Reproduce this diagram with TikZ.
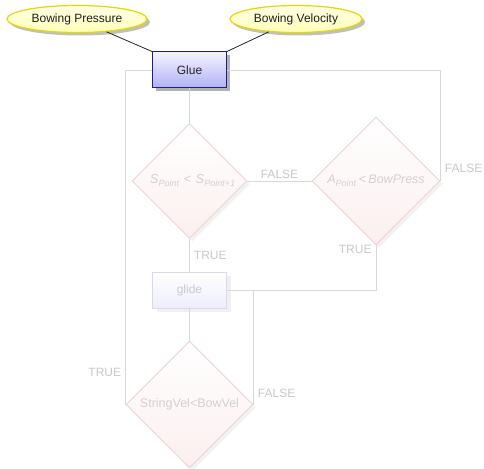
\documentclass[tikz,border=0pt]{standalone}
\usepackage{fontspec}
\setmainfont{Liberation Sans}
\usetikzlibrary{shapes.geometric,shadows}

\definecolor{ellstroke}{HTML}{E6D800}
\definecolor{elltop}{HTML}{FFFFE6}
\definecolor{ellbottom}{HTML}{FFFFB8}
\definecolor{gluestroke}{HTML}{1E1E8C}
\definecolor{gluetop}{HTML}{F4F4FF}
\definecolor{gluebottom}{HTML}{B0B0F4}
\definecolor{flowgray}{HTML}{D8D8D8}
\definecolor{labelgray}{HTML}{C8C8C8}
\definecolor{diastroke}{HTML}{EDD3D3}
\definecolor{diabottom}{HTML}{FCEFEF}
\definecolor{diatext}{HTML}{D8CFCF}
\definecolor{glidestroke}{HTML}{D8D8F0}
\definecolor{glidebottom}{HTML}{EEEEFC}
\definecolor{glidetext}{HTML}{C8C8D8}

% subscript in the diamond conditions
\newcommand{\condsub}[1]{\raisebox{-3pt}{\fontsize{9}{10}\selectfont #1}}

\tikzset{
  inputell/.style={ellipse, draw=ellstroke, line width=1.2pt,
    top color=elltop, bottom color=ellbottom, inner sep=0pt,
    text=black!88,
    drop shadow={shadow xshift=3pt, shadow yshift=-3pt, fill=black, opacity=0.25}},
  activebox/.style={rectangle, draw=gluestroke, line width=1pt,
    top color=gluetop, bottom color=gluebottom,
    minimum width=74pt, minimum height=36pt, text=black!85,
    drop shadow={shadow xshift=3.5pt, shadow yshift=-3.5pt, fill=black, opacity=0.3}},
  fadedbox/.style={rectangle, draw=glidestroke, line width=0.9pt,
    top color=white, bottom color=glidebottom,
    minimum width=74pt, minimum height=36pt, text=glidetext,
    drop shadow={shadow xshift=4pt, shadow yshift=-4pt, fill=black, opacity=0.06}},
  decision/.style={diamond, draw=diastroke, line width=0.9pt,
    top color=white, bottom color=diabottom, inner sep=0pt, aspect=1,
    text=diatext,
    drop shadow={shadow xshift=3pt, shadow yshift=-3pt, fill=black, opacity=0.05}},
  wire/.style={draw=black!85, line width=0.8pt},
  flow/.style={draw=flowgray, line width=0.9pt},
  branch/.style={text=labelgray, inner sep=4pt},
}

\begin{document}
\begin{tikzpicture}[x=1pt, y=-1pt, font=\fontsize{12}{14}\selectfont]
  \useasboundingbox (0,0) rectangle (484,468);

  % inputs
  \node[inputell, minimum width=140pt, minimum height=27pt] (bp) at (77,19) {Bowing Pressure};
  \node[inputell, minimum width=132pt, minimum height=27pt] (bv) at (296,19) {Bowing Velocity};

  % flow nodes
  \node[activebox] (glue) at (189.5,70) {Glue};
  \node[decision, minimum width=115pt, minimum height=115pt] (d1) at (189.5,181)
    {\makebox[0pt]{\hspace{6pt}\fontsize{13}{15}\selectfont\itshape
      S\condsub{Point}\hspace{0.35em}<\hspace{0.35em}S\condsub{Point+1}}};
  \node[decision, minimum width=128pt, minimum height=128pt] (d2) at (376,181)
    {\makebox[0pt]{\fontsize{12.5}{15}\selectfont\itshape
      A\condsub{Point}\hspace{0.2em}<\hspace{0.2em}BowPress}};
  \node[fadedbox] (glide) at (189.5,290) {glide};
  \node[decision, minimum width=127pt, minimum height=127pt] (d3) at (189.5,404.5)
    {\makebox[0pt]{\fontsize{12.5}{14}\selectfont StringVel<BowVel}};

  % inputs into Glue
  \draw[wire] (bp) -- (glue.north west);
  \draw[wire] (bv) -- (glue.north east);

  % flow connectors
  \draw[flow] (glue.south) -- (d1.north);
  \draw[flow] (d1.east) -- node[branch, above, inner sep=2pt] {FALSE} (d2.west);
  \draw[flow] (d1.south) -- node[branch, right] {TRUE} (glide.north);
  \draw[flow] (d2.south) |- node[branch, pos=0.05, left] {TRUE} (glide.east);
  \draw[flow] (d2.east) |- node[branch, pos=0.055, right] {FALSE} (glue.east);
  \draw[flow] (glide.south) -- (d3.north);
  \draw[flow] (d3.east) |- node[branch, pos=0.05, right] {FALSE} (glide.east);
  \draw[flow] (d3.west) |- node[branch, pos=0.048, left] {TRUE} (glue.west);
\end{tikzpicture}
\end{document}
